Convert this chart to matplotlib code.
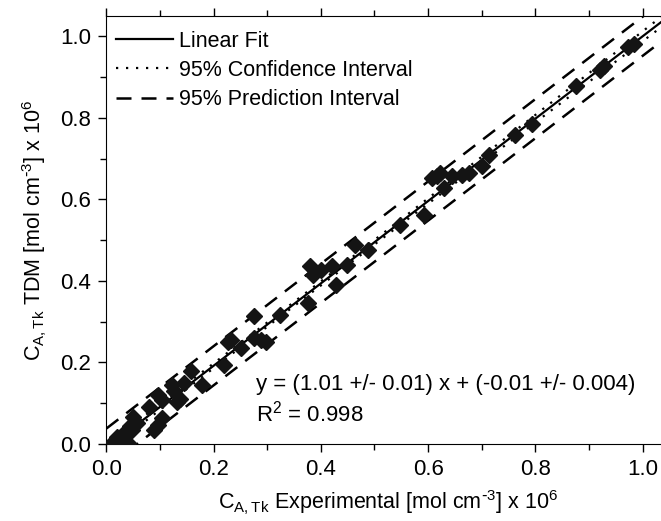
import numpy as np
import matplotlib.pyplot as plt
from matplotlib.ticker import MultipleLocator

plt.rcParams['font.family'] = ['Liberation Sans', 'DejaVu Sans']
plt.rcParams['mathtext.default'] = 'regular'
plt.rcParams['font.size'] = 16

# experimental vs TDM concentrations (x 1e6 mol/cm3)
x_exp = [0.013, 0.026, 0.041, 0.019, 0.035, 0.044, 0.047, 0.057, 0.050, 0.079,
         0.088, 0.097, 0.104, 0.097, 0.104, 0.126, 0.132, 0.138, 0.122, 0.144,
         0.179, 0.157, 0.219, 0.232, 0.226, 0.251, 0.276, 0.288, 0.298, 0.276,
         0.323, 0.376, 0.379, 0.385, 0.401, 0.420, 0.429, 0.448, 0.463, 0.488,
         0.548, 0.592, 0.607, 0.617, 0.623, 0.629, 0.645, 0.663, 0.676, 0.701,
         0.713, 0.763, 0.793, 0.876, 0.920, 0.929, 0.973, 0.985]
y_tdm = [0.006, 0.002, 0.002, 0.016, 0.030, 0.043, 0.034, 0.051, 0.067, 0.090,
         0.034, 0.047, 0.063, 0.120, 0.108, 0.129, 0.104, 0.110, 0.145, 0.149,
         0.145, 0.178, 0.194, 0.256, 0.251, 0.235, 0.260, 0.256, 0.251, 0.313,
         0.317, 0.346, 0.436, 0.415, 0.428, 0.436, 0.391, 0.440, 0.489, 0.477,
         0.538, 0.563, 0.653, 0.657, 0.665, 0.628, 0.657, 0.661, 0.665, 0.681,
         0.708, 0.759, 0.784, 0.878, 0.917, 0.927, 0.975, 0.982]

slope, intercept = 1.01, -0.01
pi_half = 0.048   # 95% prediction band half width
ci_half = 0.005   # 95% confidence band half width at the mean

x = np.array(x_exp)
y = np.array(y_tdm)

fig = plt.figure(figsize=(6.61, 5.21), dpi=100)
ax = fig.add_axes([0.161, 0.1478, 0.8516, 0.8215])

xs = np.linspace(0, 1.05, 200)
fit = slope * xs + intercept
xm = x.mean()
sxx = ((x - xm) ** 2).sum()
ci = ci_half * np.sqrt(1 + len(x) * (xs - xm) ** 2 / sxx)

ax.plot(xs, fit, color='black', lw=1.6, label='Linear Fit')
ax.plot(xs, fit + ci, color='black', lw=1.6, ls=(0, (1, 3.5)), label='95% Confidence Interval')
ax.plot(xs, fit - ci, color='black', lw=1.6, ls=(0, (1, 3.5)))
ax.plot(xs, fit + pi_half, color='black', lw=1.8, ls=(0, (6, 4)), label='95% Prediction Interval')
ax.plot(xs, fit - pi_half, color='black', lw=1.8, ls=(0, (6, 4)))
ax.plot(x, y, 'D', color='#141414', ms=8.5, mec='#141414', zorder=5)

ax.set_xlim(0, 1.05)
ax.set_ylim(0, 1.05)
ax.xaxis.set_major_locator(MultipleLocator(0.2))
ax.xaxis.set_minor_locator(MultipleLocator(0.1))
ax.yaxis.set_major_locator(MultipleLocator(0.2))
ax.yaxis.set_minor_locator(MultipleLocator(0.1))
ax.xaxis.set_major_formatter(plt.FormatStrFormatter('%.1f'))
ax.yaxis.set_major_formatter(plt.FormatStrFormatter('%.1f'))
ax.tick_params(which='both', direction='out', top=True, right=True, width=1)
ax.tick_params(which='major', length=6, pad=5)
ax.tick_params(which='minor', length=4)

ax.set_xlabel(r'C$_{A, Tk}$ Experimental [mol cm$^{\text{-}3}$] x 10$^{6}$', fontsize=15.5, labelpad=6)
ax.set_ylabel(r'C$_{A, Tk}$ TDM [mol cm$^{\text{-}3}$] x 10$^{6}$', fontsize=15.5, labelpad=8)

ax.text(0.279, 0.147, 'y = (1.01 +/- 0.01) x + (-0.01 +/- 0.004)', va='center')
ax.text(0.279, 0.074, 'R$^2$ = 0.998', va='center')

ax.legend(loc='upper left', bbox_to_anchor=(0.017, 0.966), frameon=False,
          fontsize=15.5, handlelength=2.65, handletextpad=0.3,
          borderaxespad=0, borderpad=0, labelspacing=0.39)

fig.savefig('out.png', dpi=100)
